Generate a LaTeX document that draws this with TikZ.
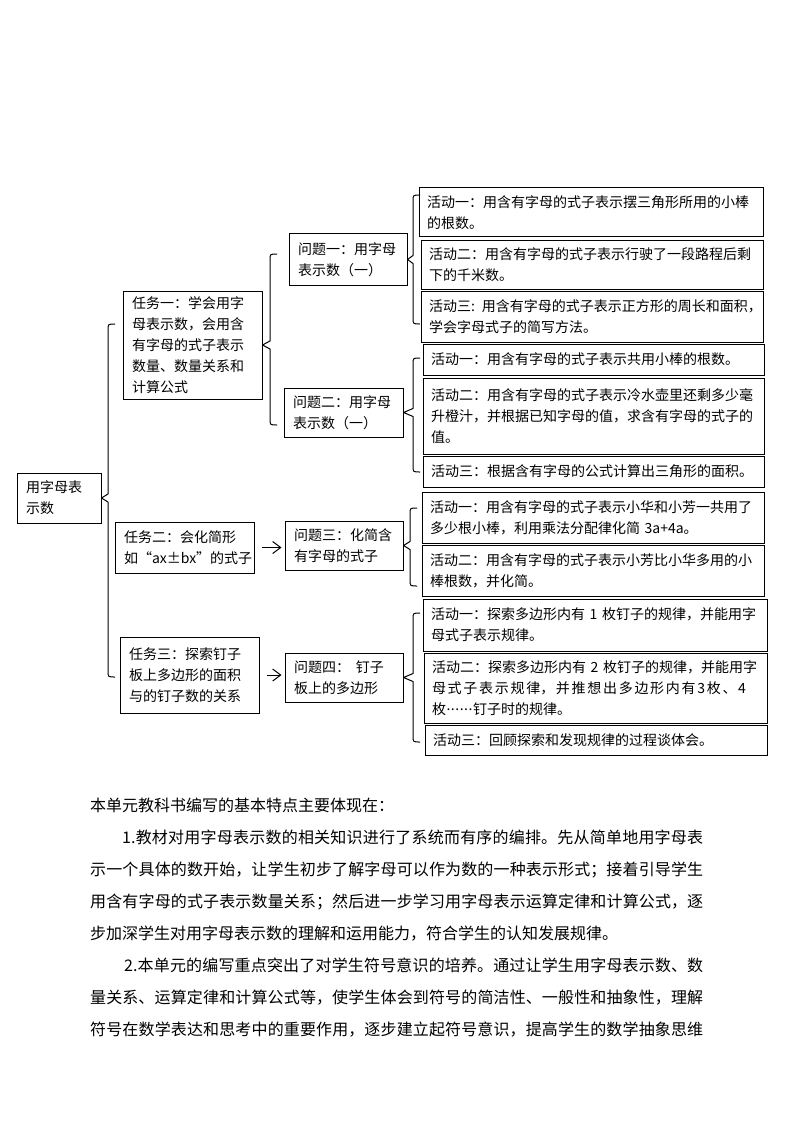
\documentclass[tikz,border=0pt]{standalone}
\usepackage{fontspec}
\setmainfont{Noto Sans CJK SC}
\usetikzlibrary{arrows.meta,calc}
\newcommand\mybrace[3]{%
  \coordinate (#2v) at ([xshift=-7pt]#2);
  \draw[ln] (#2) .. controls (#2v) .. ([yshift=-6pt]#2v)
    -- ([yshift=4pt]#1.east -| #2v) -- (#1.east)
    -- ([yshift=-4pt]#1.east -| #2v)
    -- ([xshift=-7pt,yshift=6pt]#3) .. controls ([xshift=-7pt]#3) .. (#3);}
\begin{document}
\begin{tikzpicture}[x=1pt,y=-1pt,
  ln/.style={line width=1pt, line join=round},
  bx/.style={draw, line width=1pt, inner xsep=9pt, inner ysep=0pt, align=left,
    font=\fontsize{14}{21}\selectfont},
  act/.style={bx, inner xsep=8pt, text width=#1},
  arr/.style={ln, -{Straight Barb[length=8pt,width=12pt]}, shorten <=7pt, shorten >=3pt}]
\useasboundingbox (0,0) rectangle (794,1123);
\fill[white] (0,0) rectangle (794,1123);

% root and tasks
\node[bx, text width=66pt, minimum height=50pt] (root) at (59,498) {用字母表\\示数};
\node[bx, text width=121pt, minimum height=108pt] (t1) at (192.5,345) {任务一：学会用字\\母表示数，会用含\\有字母的式子表示\\数量、数量关系和\\计算公式};
\node[bx, text width=121pt, minimum height=51pt] (t2) at (184.5,547.5) {任务二：会化简形\\如“ax±bx”的式子};
\node[bx, text width=121pt, minimum height=76pt] (t3) at (189.5,675) {任务三：探索钉子\\板上多边形的面积\\与的钉子数的关系};

% problems
\node[bx, text width=100pt, minimum height=51pt] (q1) at (348,259.5) {问题一：用字母\\表示数（一）};
\node[bx, text width=101pt, minimum height=49pt] (q2) at (343.5,412.5) {问题二：用字母\\表示数（一）};
\node[bx, text width=100pt, minimum height=49pt] (q3) at (344,545.5) {问题三：化简含\\有字母的式子};
\node[bx, text width=100pt, minimum height=49pt] (q4) at (344,677.5) {问题四：\hspace{6pt}钉子\\板上的多边形};

% activities
\node[act=328pt, minimum height=49pt] (a11) at (591,212.5) {活动一：用含有字母的式子表示摆三角形所用的小棒\\的根数。};
\node[act=326pt, minimum height=49pt] (a12) at (592,264.5) {活动二：用含有字母的式子表示行驶了一段路程后剩\\下的千米数。};
\node[act=326pt, minimum height=51pt] (a13) at (592,316.5) {\mbox{活动三: 用含有字母的式子表示正方形的周长和面积，}\\学会字母式子的简写方法。};
\node[act=325pt, minimum height=31pt] (a21) at (593.5,359.5) {活动一：用含有字母的式子表示共用小棒的根数。};
\node[act=325pt, minimum height=76pt] (a22) at (593.5,416) {活动二：用含有字母的式子表示冷水壶里还剩多少毫\\升橙汁，并根据已知字母的值，求含有字母的式子的\\值。};
\node[act=325pt, minimum height=31pt] (a23) at (593.5,471.5) {活动三：根据含有字母的公式计算出三角形的面积。};
\node[act=326pt, minimum height=51pt] (a31) at (593,517.5) {活动一：用含有字母的式子表示小华和小芳一共用了\\\mbox{多少根小棒，利用乘法分配律化简 3a+4a。}};
\node[act=326pt, minimum height=51pt] (a32) at (593,570.5) {活动二：用含有字母的式子表示小芳比小华多用的小\\棒根数，并化简。};
\node[act=328pt, minimum height=52pt] (a41) at (595,625) {\mbox{活动一：探索多边形内有 1 枚钉子的规律，并能用字}\\母式子表示规律。};
\node[act=327pt, minimum height=70pt] (a42) at (595.5,688) {\mbox{活动二：探索多边形内有 2 枚钉子的规律，并能用字}\\\makebox[314pt][s]{母\hfil 式\hfil 子\hfil 表\hfil 示\hfil 规\hfil 律，\hfil 并\hfil 推\hfil 想\hfil 出\hfil 多\hfil 边\hfil 形\hfil 内\hfil 有\hfil 3\hfil 枚\hfil 、\hfil 4}\\枚\raisebox{4pt}{\makebox[27pt][s]{\hfil.\hfil.\hfil.\hfil.\hfil.\hfil.\hfil}}钉子时的规律。};
\node[act=326pt, minimum height=30pt] (a43) at (596,740) {活动三：回顾探索和发现规律的过程谈体会。};

% brace ends
\coordinate (r0t) at (115,324);  \coordinate (r0b) at (115,677);
\coordinate (t1t) at (277,254);  \coordinate (t1b) at (277,425);
\coordinate (q1t) at (420,195);  \coordinate (q1b) at (420,324);
\coordinate (q2t) at (420,358);  \coordinate (q2b) at (420,472);
\coordinate (q3t) at (417,508);  \coordinate (q3b) at (417,586);
\coordinate (q4t) at (420,613);  \coordinate (q4b) at (420,742);

\mybrace{root}{r0t}{r0b}
\mybrace{t1}{t1t}{t1b}
\mybrace{q1}{q1t}{q1b}
\mybrace{q2}{q2t}{q2b}
\mybrace{q3}{q3t}{q3b}
\mybrace{q4}{q4t}{q4b}

\draw[arr] (t2.east) -- (t2.east -| q3.west);
\draw[arr] (t3.east) -- (t3.east -| q4.west);

% body text
\node[anchor=north west, inner sep=0pt, text width=613pt, align=justify,
  font=\fontsize{16}{32}\selectfont]
  (txt) at (90,798) {\XeTeXlinebreaklocale "zh"\XeTeXlinebreakskip=0pt plus 4pt\relax\noindent 本单元教科书编写的基本特点主要体现在：\newline
\hspace*{32pt}1.教材对用字母表示数的相关知识进行了系统而有序的编排。先从简单地用字母表\linebreak
示一个具体的数开始，让学生初步了解字母可以作为数的一种表示形式；接着引导学生\linebreak
用含有字母的式子表示数量关系；然后进一步学习用字母表示运算定律和计算公式，逐\linebreak
步加深学生对用字母表示数的理解和运用能力，符合学生的认知发展规律。\newline
\hspace*{34pt}2.本单元的编写重点突出了对学生符号意识的培养。通过让学生用字母表示数、数\linebreak
量关系、运算定律和计算公式等，使学生体会到符号的简洁性、一般性和抽象性，理解\linebreak
符号在数学表达和思考中的重要作用，逐步建立起符号意识，提高学生的数学抽象思维{\parfillskip=0pt\par}};
\end{tikzpicture}
\end{document}
